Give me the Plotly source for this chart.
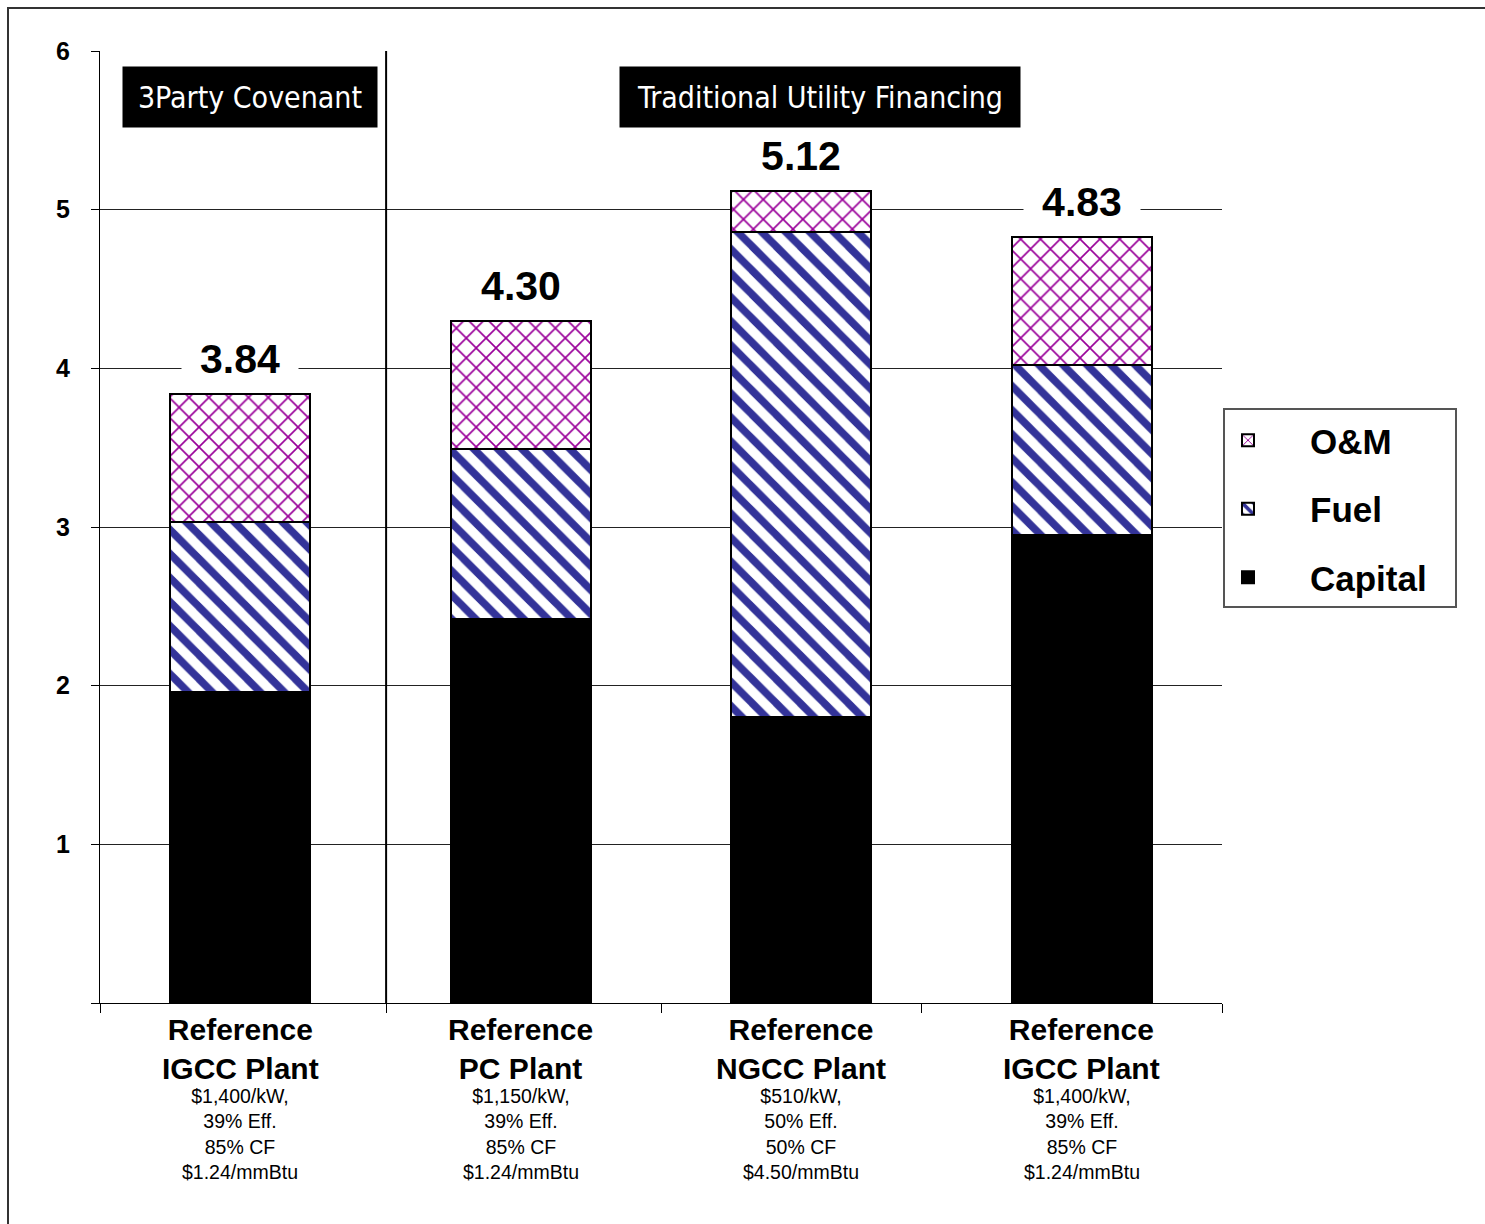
import plotly.graph_objects as go

# ---------------- data ----------------
plant_line1 = ["Reference", "Reference", "Reference", "Reference"]
plant_line2 = ["IGCC Plant", "PC Plant", "NGCC Plant", "IGCC Plant"]
plant_details = [
    ["$1,400/kW,", "39% Eff.", "85% CF", "$1.24/mmBtu"],
    ["$1,150/kW,", "39% Eff.", "85% CF", "$1.24/mmBtu"],
    ["$510/kW,", "50% Eff.", "50% CF", "$4.50/mmBtu"],
    ["$1,400/kW,", "39% Eff.", "85% CF", "$1.24/mmBtu"],
]
capital = [1.96, 2.42, 1.80, 2.95]
fuel = [1.07, 1.07, 3.06, 1.07]
om = [0.81, 0.81, 0.26, 0.81]
group_headers = ["3Party Covenant", "Traditional Utility Financing"]
y_ticks = [0, 1, 2, 3, 4, 5, 6]
y_tick_text = ["", "1", "2", "3", "4", "5", "6"]

# ---------------- layout constants ----------------
W, H = 1485, 1224
PL, PR, PT, PB = 100, 1222, 51, 1003  # plot area in px
ARIAL = "Arial, Liberation Sans, Helvetica, sans-serif"
NARROW = "Liberation Sans Narrow, Arial Narrow, DejaVu Sans Condensed, sans-serif"


def px_x(px):
    return (px - PL) / (PR - PL)


def px_y(py):
    return (PB - py) / (PB - PT)


xs = [i + 0.5 for i in range(len(capital))]

fig = go.Figure()
fig.add_trace(go.Bar(
    x=xs, y=capital, width=0.5, name="Capital", legendgroup="cap", legendrank=3,
    marker=dict(color="black", line=dict(color="black", width=2)),
))
fig.add_trace(go.Bar(
    x=xs, y=fuel, width=0.5, name="Fuel", legendgroup="fuel", legendrank=2,
    marker=dict(color="white", line=dict(color="black", width=2),
                pattern=dict(shape="\\", fgcolor="#333399", bgcolor="white",
                             size=17, solidity=0.45, fillmode="replace")),
))
fig.add_trace(go.Bar(
    x=xs, y=om, width=0.5, name="O&M", legendgroup="om", legendrank=1,
    marker=dict(color="white", line=dict(color="black", width=2),
                pattern=dict(shape="x", fgcolor="#990099", bgcolor="white",
                             size=14, solidity=0.22, fillmode="replace")),
))

annotations = []
# totals above bars
for x, c, f, o in zip(xs, capital, fuel, om):
    total = c + f + o
    annotations.append(dict(
        x=x, y=total, xref="x", yref="y", text=f"{total:.2f}",
        showarrow=False, yanchor="bottom", yshift=10,
        width=112, height=44, borderpad=2, bgcolor="white",
        font=dict(family=ARIAL, size=41, color="black", weight="bold"),
    ))

# category labels under axis
for x, l1, l2, det in zip(xs, plant_line1, plant_line2, plant_details):
    annotations.append(dict(
        x=x, y=0, xref="x", yref="y", text=f"{l1}<br>{l2}", showarrow=False,
        yanchor="middle", yshift=-46, borderpad=0,
        font=dict(family=ARIAL, size=30, color="black", weight="bold"),
    ))
    annotations.append(dict(
        x=x, y=0, xref="x", yref="y", text="<br>".join(det), showarrow=False,
        yanchor="middle", yshift=-131, borderpad=0,
        font=dict(family=ARIAL, size=19.5, color="black"),
    ))

# group header boxes
header_geom = [(123, 377), (620, 1020)]
for text, (x0, x1) in zip(group_headers, header_geom):
    annotations.append(dict(
        x=px_x((x0 + x1) / 2), y=px_y(97), xref="paper", yref="paper",
        text=text, showarrow=False, xanchor="center", yanchor="middle",
        width=x1 - x0, height=60, borderpad=0, bgcolor="black",
        font=dict(family=NARROW, size=30, color="white"),
    ))

shapes = [
    # separator between financing groups
    dict(type="line", xref="x", yref="y", x0=1.02, x1=1.02, y0=0, y1=6,
         line=dict(color="black", width=2)),
    # legend frame
    dict(type="rect", xref="paper", yref="paper",
         x0=px_x(1224), x1=px_x(1456), y0=px_y(607), y1=px_y(409),
         line=dict(color="#555555", width=2)),
    # outer frame
    dict(type="rect", xref="paper", yref="paper",
         x0=px_x(8), x1=px_x(1500), y0=px_y(1240), y1=px_y(8),
         line=dict(color="#333333", width=2)),
]

fig.update_layout(
    width=W, height=H,
    margin=dict(l=PL, r=W - PR, t=PT, b=H - PB, autoexpand=False),
    paper_bgcolor="white", plot_bgcolor="white",
    barmode="stack", bargap=0,
    showlegend=True,
    legend=dict(
        x=px_x(1186), xanchor="left", y=px_y(411), yanchor="top",
        bgcolor="rgba(0,0,0,0)", borderwidth=0,
        font=dict(family=ARIAL, size=35, color="black", weight="bold"),
        traceorder="grouped", tracegroupgap=20, itemwidth=114,
    ),
    xaxis=dict(
        range=[0, 4], tickvals=[0, 1.02, 2, 2.93, 4], ticks="outside",
        ticklen=9, tickcolor="black", tickwidth=1, showticklabels=False,
        showline=True, linecolor="black", linewidth=1, showgrid=False,
        zeroline=False, fixedrange=True,
    ),
    yaxis=dict(
        range=[0, 6], tickvals=y_ticks, ticktext=y_tick_text,
        ticks="outside", ticklen=8, tickcolor="black", tickwidth=1,
        showline=True, linecolor="black", linewidth=1,
        showgrid=True, gridcolor="#222222", gridwidth=1, zeroline=False,
        tickfont=dict(family=ARIAL, size=25, color="black", weight="bold"),
        ticklabelstandoff=16, fixedrange=True,
    ),
    annotations=annotations,
    shapes=shapes,
)

fig.write_html("out.html")
